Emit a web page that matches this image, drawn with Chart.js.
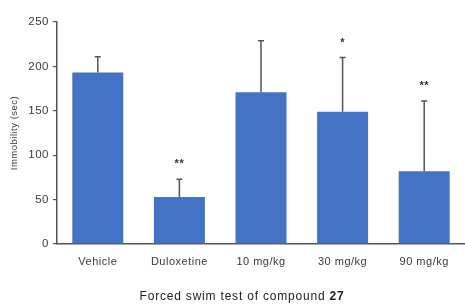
<!DOCTYPE html>
<html>
<head>
<meta charset="utf-8">
<script src="https://cdn.jsdelivr.net/npm/chart.js@4/dist/chart.umd.min.js"></script>
<style>
  html, body { margin: 0; padding: 0; background: #fff; }
  canvas { display: block; }
</style>
</head>
<body>
<canvas id="chart" width="465" height="307"></canvas>
<script>
const groups = ["Vehicle", "Duloxetine", "10 mg/kg", "30 mg/kg", "90 mg/kg"];
const immobility = [193, 53, 171, 149, 82];
const sd = [18, 20, 58, 61, 79];
const marks = ["", "**", "", "*", "**"];
const yTicks = [0, 50, 100, 150, 200, 250];

const textColor = "#3a3a3a";
const axisColor = "#555";

// error bars + significance stars
const errorBars = {
  id: "errorBars",
  afterDatasetsDraw(chart) {
    const ctx = chart.ctx;
    const y = chart.scales.y;
    const bars = chart.getDatasetMeta(0).data;
    ctx.save();
    ctx.strokeStyle = "#555";
    ctx.lineWidth = 1.5;
    bars.forEach((bar, i) => {
      const top = y.getPixelForValue(immobility[i] + sd[i]);
      ctx.beginPath();
      ctx.moveTo(bar.x, bar.y);
      ctx.lineTo(bar.x, top);
      ctx.moveTo(bar.x - 3, top);
      ctx.lineTo(bar.x + 3, top);
      ctx.stroke();
      if (marks[i]) {
        ctx.fillStyle = "#333";
        ctx.font = "bold 11px 'Liberation Sans', Arial, sans-serif";
        ctx.textAlign = "center";
        ctx.textBaseline = "middle";
        ctx.fillText(marks[i], bar.x, top - 15);
      }
    });
    ctx.restore();
  }
};

// caption under the chart, with bold compound number
const caption = {
  id: "caption",
  beforeDraw(chart) {
    chart.ctx.letterSpacing = "0.5px";
  },
  afterDraw(chart) {
    const ctx = chart.ctx;
    ctx.save();
    ctx.letterSpacing = "0.8px";
    ctx.fillStyle = "#222";
    ctx.textBaseline = "middle";
    const a = "Forced swim test of compound ";
    const b = "27";
    ctx.font = "12px 'Liberation Sans', Arial, sans-serif";
    const wa = ctx.measureText(a).width;
    ctx.font = "bold 12px 'Liberation Sans', Arial, sans-serif";
    const wb = ctx.measureText(b).width;
    const x0 = 242 - (wa + wb) / 2;
    ctx.font = "12px 'Liberation Sans', Arial, sans-serif";
    ctx.fillText(a, x0, 297);
    ctx.font = "bold 12px 'Liberation Sans', Arial, sans-serif";
    ctx.fillText(b, x0 + wa, 297);
    ctx.restore();
  }
};

new Chart(document.getElementById("chart"), {
  type: "bar",
  data: {
    labels: groups,
    datasets: [{
      data: immobility,
      backgroundColor: "#4472C4",
      barPercentage: 0.625,
      categoryPercentage: 1
    }]
  },
  options: {
    responsive: false,
    animation: false,
    layout: { padding: { top: 22, left: 0, right: 0, bottom: 0 } },
    plugins: {
      legend: { display: false },
      tooltip: { enabled: false }
    },
    scales: {
      x: {
        grid: { display: false, drawTicks: false },
        border: { display: true, color: axisColor, width: 1.5 },
        ticks: {
          color: textColor,
          padding: 11,
          font: { family: "'Liberation Sans', Arial, sans-serif", size: 11 }
        },
        afterFit(scale) { scale.height = 63; }
      },
      y: {
        min: 0,
        max: 250,
        afterBuildTicks(scale) { scale.ticks = yTicks.map(v => ({ value: v })); },
        grid: { drawOnChartArea: false, drawTicks: true, tickLength: 4, color: axisColor, lineWidth: 1.2 },
        border: { display: true, color: axisColor, width: 1.5 },
        ticks: {
          color: textColor,
          padding: 4,
          font: { family: "'Liberation Sans', Arial, sans-serif", size: 11.5 }
        },
        title: {
          display: true,
          text: "Immobility (sec)",
          color: textColor,
          padding: { top: 9, bottom: 0 },
          font: { family: "'Liberation Sans', Arial, sans-serif", size: 9.5 }
        },
        afterFit(scale) { scale.width = 57; }
      }
    }
  },
  plugins: [errorBars, caption]
});
</script>
</body>
</html>
